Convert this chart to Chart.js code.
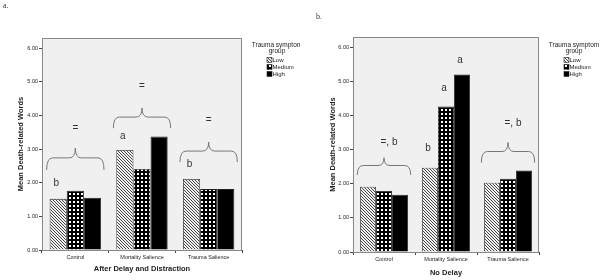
<!DOCTYPE html>
<html>
<head>
<meta charset="utf-8">
<script src="https://cdn.jsdelivr.net/npm/chart.js@4.4.1/dist/chart.umd.min.js"></script>
<style>
  html, body { margin: 0; padding: 0; background: #fff; }
  #page { position: relative; width: 602px; height: 280px; overflow: hidden; }
  .panel { position: absolute; top: 0; height: 280px; }
  .tag { position: absolute; font-family: "Liberation Serif", serif; font-size: 8px; color: #333; }
</style>
</head>
<body>
<div id="page">
  <div class="panel" style="left:0;width:300px"><canvas id="delayChart" width="300" height="280"></canvas></div>
  <div class="panel" style="left:300px;width:302px"><canvas id="noDelayChart" width="302" height="280"></canvas></div>
  <span class="tag" style="left:3px;top:1px">a.</span>
  <span class="tag" style="left:316px;top:12px">b.</span>
</div>
<script>
// categories and series
const categories = ["Control", "Mortality Salience", "Trauma Salience"];
const groups = ["Low", "Medium", "High"];
const yTicks = [0, 1, 2, 3, 4, 5, 6];

// After Delay and Distraction
const delayLow = [1.52, 2.97, 2.11];
const delayMedium = [1.76, 2.41, 1.81];
const delayHigh = [1.55, 3.37, 1.81];

// No Delay
const noDelayLow = [1.91, 2.47, 2.03];
const noDelayMedium = [1.79, 4.26, 2.15];
const noDelayHigh = [1.68, 5.2, 2.39];

// braces over categories and letters over bars (in value units)
const delayBraces = [
  { cat: 0, tip: 3.03, end: 2.38, text: "=", textY: 3.62 },
  { cat: 1, tip: 4.22, end: 3.62, text: "=", textY: 4.87 },
  { cat: 2, tip: 3.21, end: 2.61, text: "=", textY: 3.86 },
];
const delayLetters = [
  { cat: 0, series: 0, y: 1.99, text: "b" },
  { cat: 1, series: 0, y: 3.39, text: "a" },
  { cat: 2, series: 0, y: 2.55, text: "b" },
];
const noDelayBraces = [
  { cat: 0, tip: 2.76, end: 2.26, text: "=, b", textY: 3.21 },
  { cat: 2, tip: 3.21, end: 2.62, text: "=, b", textY: 3.76 },
];
const noDelayLetters = [
  { cat: 1, series: 0, y: 3.03, text: "b" },
  { cat: 1, series: 1, y: 4.79, text: "a" },
  { cat: 1, series: 2, y: 5.62, text: "a" },
];

const FONT = "'Liberation Sans', Arial, sans-serif";

function makePattern(kind) {
  const c = document.createElement("canvas");
  const p = c.getContext("2d");
  if (kind === "hatch") {
    c.width = 3; c.height = 3;
    p.fillStyle = "#f2f2f2";
    p.fillRect(0, 0, 3, 3);
    p.fillStyle = "#444";
    for (let i = 0; i < 3; i++) p.fillRect(i, i, 1, 1);
  } else {
    c.width = 4; c.height = 4;
    p.fillStyle = "#000";
    p.fillRect(0, 0, 4, 4);
    p.fillStyle = "#fff";
    p.fillRect(1, 1, 2, 2);
  }
  return p.createPattern(c, "repeat");
}

const fills = [makePattern("hatch"), makePattern("grid"), "#000"];

// plot background, frame, legend and notes
const decor = {
  id: "decor",
  beforeDatasetsDraw(chart) {
    const { ctx, chartArea: a } = chart;
    ctx.save();
    ctx.fillStyle = "#f0f0f0";
    ctx.fillRect(a.left, a.top, a.right - a.left, a.bottom - a.top);
    ctx.restore();
  },
  afterDraw(chart) {
    const { ctx, chartArea: a, scales } = chart;
    const opts = chart.options.plugins.decor;
    ctx.save();
    ctx.strokeStyle = "#888";
    ctx.lineWidth = 1;
    ctx.strokeRect(a.left + 0.5, a.top + 0.5, a.right - a.left - 1, a.bottom - a.top);

    // legend
    const lx = a.right + 35;
    ctx.fillStyle = "#222";
    ctx.textAlign = "center";
    ctx.textBaseline = "middle";
    ctx.font = "6.5px " + FONT;
    ctx.fillText("Trauma symptom", lx, 45);
    ctx.fillText("group", lx, 51);
    ctx.textAlign = "left";
    ctx.font = "6px " + FONT;
    groups.forEach((g, i) => {
      const y = 60 + i * 7;
      ctx.fillStyle = fills[i];
      ctx.fillRect(a.right + 25, y - 2.5, 5, 5);
      ctx.strokeStyle = "#222";
      ctx.lineWidth = 0.6;
      ctx.strokeRect(a.right + 25, y - 2.5, 5, 5);
      ctx.fillStyle = "#222";
      ctx.fillText(g, a.right + 30.5, y);
    });

    // braces
    const x = scales.x, yS = scales.y;
    const half = (x.getPixelForValue(1) - x.getPixelForValue(0)) * 0.43;
    ctx.strokeStyle = "#777";
    ctx.lineWidth = 1;
    opts.braces.forEach(b => {
      const xc = x.getPixelForValue(b.cat);
      const x0 = xc - half, x1 = xc + half;
      const yt = yS.getPixelForValue(b.tip), ye = yS.getPixelForValue(b.end);
      const yb = yt + (ye - yt) * 0.45;
      const r = 6;
      ctx.beginPath();
      ctx.moveTo(x0, ye);
      ctx.quadraticCurveTo(x0, yb, x0 + r, yb);
      ctx.lineTo(xc - r, yb);
      ctx.quadraticCurveTo(xc, yb, xc, yt);
      ctx.quadraticCurveTo(xc, yb, xc + r, yb);
      ctx.lineTo(x1 - r, yb);
      ctx.quadraticCurveTo(x1, yb, x1, ye);
      ctx.stroke();
      ctx.fillStyle = "#333";
      ctx.textAlign = "center";
      ctx.font = "10px " + FONT;
      ctx.fillText(b.text, xc + (b.text.length > 1 ? 5 : 0), yS.getPixelForValue(b.textY));
    });

    // letters
    opts.letters.forEach(l => {
      const bar = chart.getDatasetMeta(l.series).data[l.cat];
      ctx.fillStyle = "#333";
      ctx.textAlign = "center";
      ctx.font = "10px " + FONT;
      ctx.fillText(l.text, bar.x - 2, yS.getPixelForValue(l.y));
    });
    ctx.restore();
  },
};

function buildChart(id, series, title, braces, letters, geo) {
  new Chart(document.getElementById(id), {
    type: "bar",
    data: {
      labels: categories,
      datasets: series.map((vals, i) => ({
        label: groups[i],
        data: vals,
        backgroundColor: fills[i],
        borderColor: "#222",
        borderWidth: 0.8,
        categoryPercentage: geo.cat,
        barPercentage: 1,
      })),
    },
    options: {
      responsive: false,
      animation: false,
      layout: { padding: { top: geo.top, right: geo.right, left: 0, bottom: 0 } },
      plugins: {
        legend: { display: false },
        tooltip: { enabled: false },
        decor: { braces: braces, letters: letters },
      },
      scales: {
        x: {
          afterFit: s => { s.height = geo.xHeight; },
          border: { color: "#444" },
          grid: { drawOnChartArea: false, tickLength: 3, color: "#444" },
          ticks: { color: "#222", padding: 1, font: { size: 5.5, family: FONT } },
          title: {
            display: true,
            text: title,
            color: "#222",
            padding: { top: 0, bottom: geo.titleBottom },
            font: { size: 7.5, weight: "bold", family: FONT },
          },
        },
        y: {
          min: 0,
          max: 6.3,
          afterFit: s => { s.width = geo.yWidth; },
          afterBuildTicks: s => { s.ticks = yTicks.map(v => ({ value: v })); },
          border: { color: "#444" },
          grid: { drawOnChartArea: false, tickLength: 3, color: "#444" },
          ticks: {
            color: "#222",
            padding: 1,
            font: { size: 5.5, family: FONT },
            callback: v => Number(v).toFixed(2),
          },
          title: {
            display: true,
            text: "Mean Death-related Words",
            color: "#222",
            padding: { top: geo.yTitleTop, bottom: 0 },
            font: { size: 7.5, weight: "bold", family: FONT },
          },
        },
      },
    },
    plugins: [decor],
  });
}

buildChart("delayChart", [delayLow, delayMedium, delayHigh], "After Delay and Distraction",
  delayBraces, delayLetters,
  { top: 38, right: 58, xHeight: 30, yWidth: 42, cat: 0.77, titleBottom: 7, yTitleTop: 16 });

buildChart("noDelayChart", [noDelayLow, noDelayMedium, noDelayHigh], "No Delay",
  noDelayBraces, noDelayLetters,
  { top: 37, right: 63, xHeight: 28, yWidth: 53, cat: 0.775, titleBottom: 3, yTitleTop: 28 });
</script>
</body>
</html>
